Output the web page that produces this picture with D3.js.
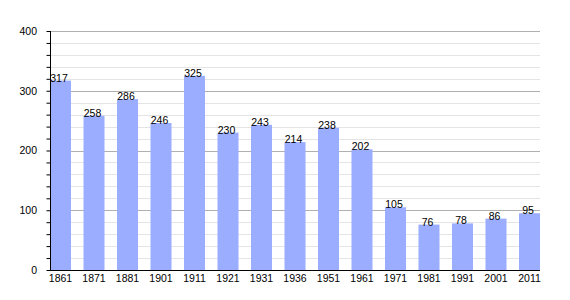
<!DOCTYPE html>
<html>
<head>
<meta charset="utf-8">
<script src="https://cdn.jsdelivr.net/npm/d3@7"></script>
<style>
  body { margin: 0; background: #fff; }
  text { font-family: "Liberation Sans", Arial, sans-serif; }
</style>
</head>
<body>
<div id="chart"></div>
<script>
// CHART DATA
const years = ["1861", "1871", "1881", "1901", "1911", "1921", "1931", "1936", "1951", "1961", "1971", "1981", "1991", "2001", "2011"];
const population = [317, 258, 286, 246, 325, 230, 243, 214, 238, 202, 105, 76, 78, 86, 95];
const yTicks = [0, 100, 200, 300, 400];

// SIZE
const width = 570, height = 300;
const plotLeft = 50, plotRight = 540, plotTop = 31, plotBottom = 270;

const svg = d3.select("#chart").append("svg")
    .attr("width", width)
    .attr("height", height);

const x = d3.scaleBand()
    .domain(years)
    .range([plotLeft, plotRight])
    .paddingInner(0.373)
    .paddingOuter(0);

const y = d3.scaleLinear()
    .domain([0, 400])
    .range([plotBottom, plotTop]);

// MINOR + MAJOR GRID LINES
const minor = d3.range(20, 400, 20).filter(v => v % 100 !== 0);
svg.append("g").selectAll("line")
    .data(minor)
    .join("line")
    .attr("x1", plotLeft).attr("x2", plotRight)
    .attr("y1", d => Math.round(y(d)) + 0.5).attr("y2", d => Math.round(y(d)) + 0.5)
    .attr("stroke", "#e4e4e4");

svg.append("g").selectAll("line")
    .data(yTicks.filter(v => v > 0))
    .join("line")
    .attr("x1", plotLeft).attr("x2", plotRight)
    .attr("y1", d => Math.round(y(d)) + 0.5).attr("y2", d => Math.round(y(d)) + 0.5)
    .attr("stroke", "#b0b0b0");

// BARS
svg.append("g").selectAll("rect")
    .data(population)
    .join("rect")
    .attr("x", (_, i) => x(years[i]))
    .attr("width", x.bandwidth())
    .attr("y", d => y(d))
    .attr("height", d => plotBottom - y(d))
    .attr("fill", "#9badff");

// VALUE LABELS
svg.append("g").selectAll("text")
    .data(population)
    .join("text")
    .attr("x", (_, i) => x(years[i]) + x.bandwidth() / 2 - 1.5)
    .attr("y", d => y(d) + 1)
    .attr("text-anchor", "middle")
    .attr("font-size", 10.5)
    .attr("fill", "#000")
    .text(d => d);

// Y AXIS
const yAxis = svg.append("g")
    .attr("transform", `translate(${plotLeft + 0.5},0)`)
    .call(d3.axisLeft(y).tickValues(d3.range(0, 401, 20)).tickSize(4).tickFormat(d => yTicks.includes(d) ? d : ""));
yAxis.select(".domain").attr("stroke", "#000").attr("d", `M0,${plotTop}V${plotBottom}`);
yAxis.selectAll(".tick line").attr("stroke", "#000");
yAxis.selectAll(".tick text")
    .attr("x", -13.5)
    .attr("font-size", 10.5)
    .attr("font-family", "Liberation Sans, Arial, sans-serif")
    .attr("fill", "#000");

// X AXIS
const xAxis = svg.append("g")
    .attr("transform", `translate(0,${plotBottom + 0.5})`)
    .call(d3.axisBottom(x).tickSize(0).tickPadding(4));
xAxis.select(".domain").attr("stroke", "#000").attr("d", `M${plotLeft},0H${plotRight}`);
xAxis.selectAll(".tick text")
    .attr("font-size", 10.5)
    .attr("font-family", "Liberation Sans, Arial, sans-serif")
    .attr("fill", "#000");
</script>
</body>
</html>
